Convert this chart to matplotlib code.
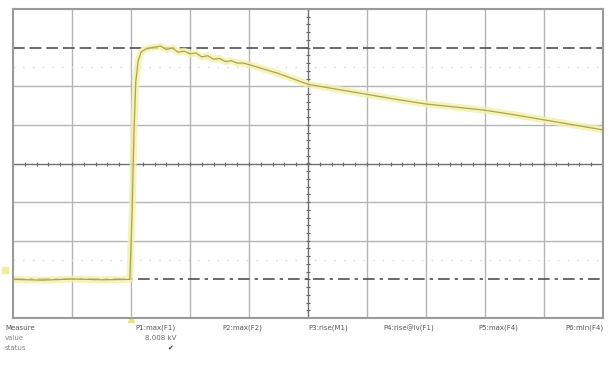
import numpy as np
import matplotlib.pyplot as plt

# trace, in divisions
t = [0.0, 0.5, 1.0, 1.5, 1.98, 2.02, 2.05, 2.08, 2.12, 2.17, 2.24, 2.35, 2.50, 2.60,
     2.70, 2.80, 2.90, 3.00, 3.10, 3.20, 3.30, 3.40, 3.50, 3.60, 3.70, 3.80, 3.90,
     4.00, 4.50, 5.00, 5.50, 6.00, 6.50, 7.00, 7.50, 8.00, 8.50, 9.00, 9.50, 10.0]
v = [-3.00, -3.02, -2.99, -3.01, -3.00, -1.20, 0.80, 2.10, 2.65, 2.88, 2.96, 3.00,
     3.04, 2.95, 2.99, 2.88, 2.91, 2.84, 2.86, 2.76, 2.79, 2.70, 2.72, 2.64, 2.66,
     2.60, 2.60, 2.56, 2.33, 2.05, 1.92, 1.79, 1.66, 1.54, 1.46, 1.38, 1.26, 1.13,
     1.00, 0.87]

params = ["P1:max(F1)", "P2:max(F2)", "P3:rise(M1)", "P4:rise@lv(F1)", "P5:max(F4)", "P6:min(F4)"]
param_x = [176, 262, 348, 434, 518, 603]
values = ["8.008 kV", "", "", "", "", ""]
status = ["\u2714", "", "", "", "", ""]

fig = plt.figure(figsize=(6.08, 3.65), dpi=100)
ax = fig.add_axes([13 / 608, 1 - 318 / 365, 590 / 608, 309 / 365])
ax.set_xlim(0, 10)
ax.set_ylim(-4, 4)

grid_c = '#b4b4b4'
for i in range(1, 10):
    if i != 5:
        ax.axvline(i, color=grid_c, lw=1.0)
for j in range(-3, 4):
    if j not in (0, -3, 3):
        ax.axhline(j, color=grid_c, lw=1.0)

# center crosshair with ticks
ax.axvline(5, color='#707070', lw=1.0)
ax.axhline(0, color='#707070', lw=1.0)
xt = np.arange(0, 10.01, 0.2)
ax.plot(xt, np.zeros_like(xt), '|', color='#666666', ms=3, mew=0.8)
yt = np.arange(-4, 4.01, 0.2)
ax.plot(np.full_like(yt, 5), yt, '_', color='#666666', ms=3, mew=0.8)

# level lines
ax.axhline(3, color='#505050', lw=1.2, ls=(0, (7, 3)))
ax.axhline(-3, color='#505050', lw=1.2, ls=(0, (7, 3, 2, 3)))
ax.axhline(2.5, color='#d8d8d8', lw=1.0, ls=(0, (1, 6)))
ax.axhline(-2.5, color='#d8d8d8', lw=1.0, ls=(0, (1, 6)))

# trace: yellow glow plus thin line
ax.plot(t, v, color='#f4f0a8', lw=5, alpha=0.8, solid_capstyle='butt')
ax.plot(t, v, color='#a8a25a', lw=0.9)

# markers
ax.plot([-0.13], [-2.75], marker='s', ms=4, color='#f0ec9a', clip_on=False)
ax.plot([2.0], [-4.03], marker='^', ms=5, color='#e8e27a', clip_on=False)

ax.set_xticks([])
ax.set_yticks([])
for s in ax.spines.values():
    s.set_color('#9a9a9a')
    s.set_linewidth(1.5)

# measurement table
fig.text(5 / 608, 1 - 328 / 365, "Measure", fontsize=5, color='#555555', va='center')
fig.text(5 / 608, 1 - 338 / 365, "value", fontsize=5, color='#888888', va='center')
fig.text(5 / 608, 1 - 348 / 365, "status", fontsize=5, color='#888888', va='center')
for p, px, val, st in zip(params, param_x, values, status):
    fig.text(px / 608, 1 - 328 / 365, p, fontsize=5, color='#555555', va='center', ha='right')
    if val:
        fig.text(px / 608, 1 - 338 / 365, val, fontsize=5, color='#666666', va='center', ha='right')
    if st:
        fig.text((px - 3) / 608, 1 - 348 / 365, st, fontsize=5, color='#333333', va='center', ha='right')

fig.savefig('out.png', dpi=100, facecolor='white')
